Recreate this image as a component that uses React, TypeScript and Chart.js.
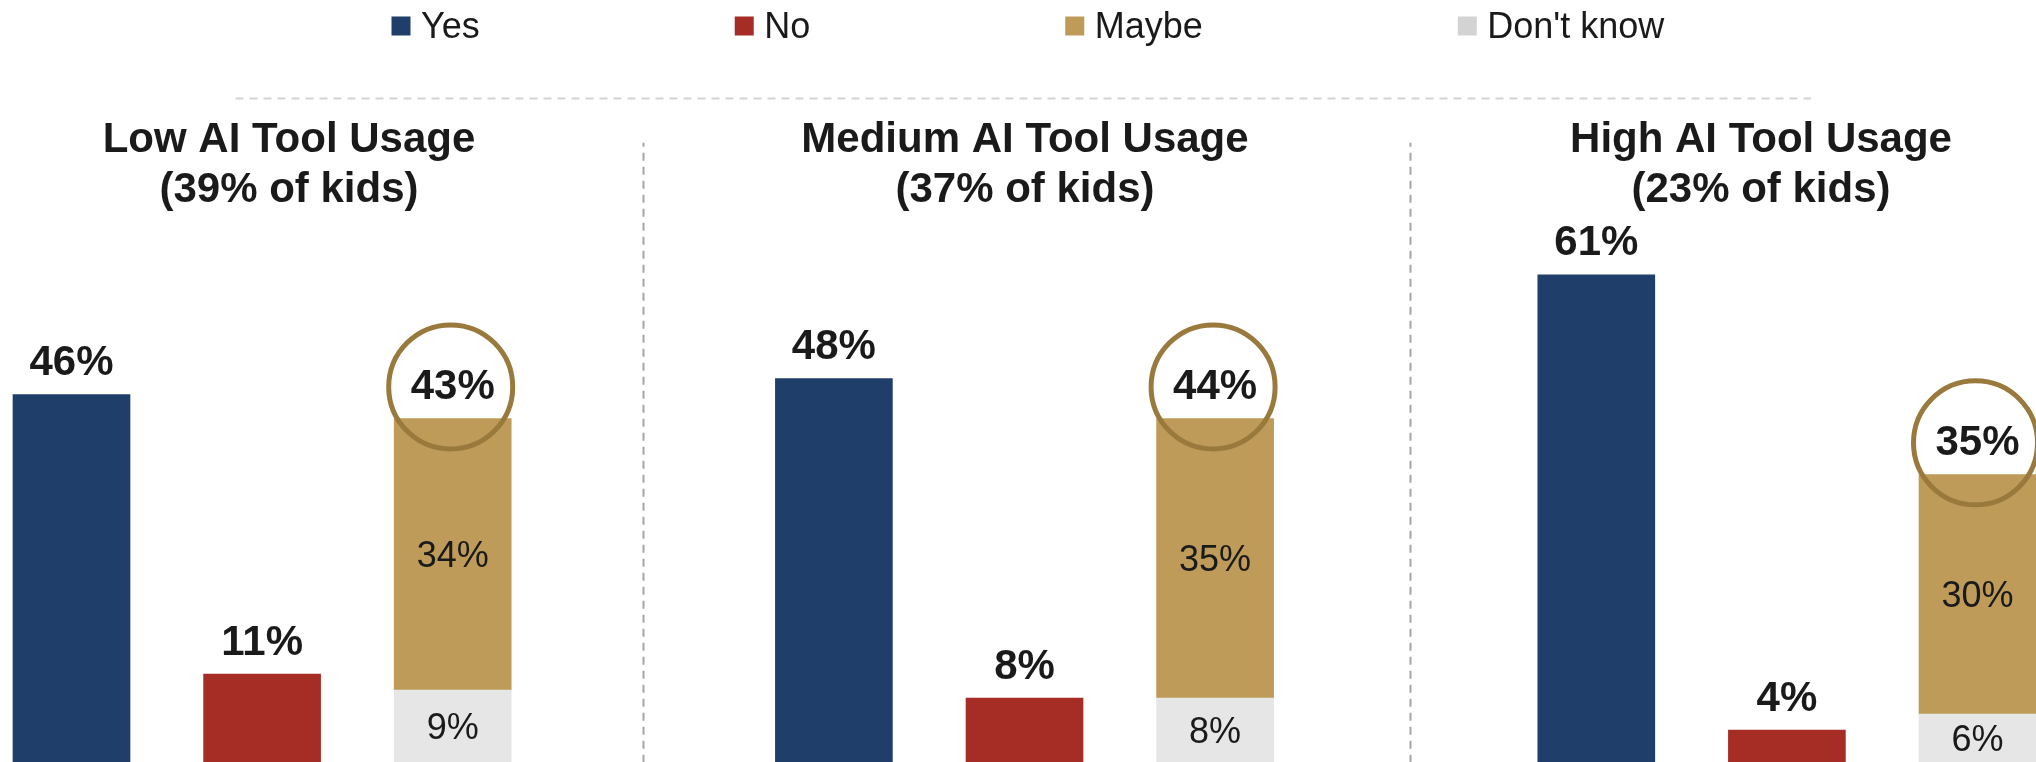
import React, { useEffect, useRef } from "react";
import { Chart, registerables } from "chart.js";

Chart.register(...registerables);

// ---- data ----
const seriesNames = ["Yes", "No", "Maybe", "Don't know"];
const groupTitles = ["Low AI Tool Usage", "Medium AI Tool Usage", "High AI Tool Usage"];
const groupShares = ["(39% of kids)", "(37% of kids)", "(23% of kids)"];
const yesValues = [46, 48, 61];
const noValues = [11, 8, 4];
const maybeValues = [34, 35, 30];
const dontKnowValues = [9, 8, 6];
const maybeTotals = [43, 44, 35];

// ---- styles ----
const COLORS = {
  yes: "#1f3e69",
  no: "#a52d25",
  maybe: "#bf9b5a",
  dontKnow: "#e6e6e6",
  dontKnowLegend: "#d3d3d3",
  ring: "#9a7a3c",
  text: "#1a1a1a",
};
const legendColors = [COLORS.yes, COLORS.no, COLORS.maybe, COLORS.dontKnowLegend];
const FONT = '"Liberation Sans", Arial, Helvetica, sans-serif';
const W = 2036;
const H = 762;
const SLOT_PX = 190.6;
const FIRST_SLOT_PX = 71.5;
const X_MIN = -FIRST_SLOT_PX / SLOT_PX;
const X_MAX = X_MIN + W / SLOT_PX;

// slot index on the x scale for each group (3 bars + 1 gap per group)
const slot = (g: number, k: number) => g * 4 + k;

const overlayPlugin = {
  id: "overlay",
  afterDatasetsDraw(chart: any) {
    const ctx: CanvasRenderingContext2D = chart.ctx;
    const xScale = chart.scales.x;
    ctx.save();

    // legend
    ctx.font = `36px ${FONT}`;
    ctx.textBaseline = "alphabetic";
    ctx.textAlign = "left";
    let lx = 391.5;
    seriesNames.forEach((name, i) => {
      ctx.fillStyle = legendColors[i];
      ctx.fillRect(lx, 16.5, 19, 19);
      ctx.fillStyle = COLORS.text;
      ctx.fillText(name, lx + 29.5, 38);
      lx += 29.5 + ctx.measureText(name).width + 255;
    });

    // horizontal dashed separator
    ctx.strokeStyle = "#d3d3d3";
    ctx.lineWidth = 2;
    ctx.setLineDash([8, 6]);
    ctx.beginPath();
    ctx.moveTo(235.5, 98.5);
    ctx.lineTo(1811, 98.5);
    ctx.stroke();

    // vertical dashed dividers between groups
    ctx.strokeStyle = "#a6a6a6";
    ctx.lineDashOffset = 4;
    [3, 7.02].forEach((v) => {
      const x = Math.round(xScale.getPixelForValue(v)) + 0.5;
      ctx.beginPath();
      ctx.moveTo(x, 142.7);
      ctx.lineTo(x, H);
      ctx.stroke();
    });
    ctx.setLineDash([]);
    ctx.lineDashOffset = 0;

    // group titles
    ctx.fillStyle = COLORS.text;
    ctx.textAlign = "center";
    ctx.font = `bold 42px ${FONT}`;
    groupTitles.forEach((t, g) => {
      const cx = 1025 + (g - 1) * 736;
      ctx.fillText(t, cx, 151.7);
      ctx.fillText(groupShares[g], cx, 201.5);
    });

    // value labels
    const metas = chart.data.datasets.map((_: any, i: number) => chart.getDatasetMeta(i));
    const [yesMeta, noMeta, dkMeta, maybeMeta] = metas;
    ctx.font = `bold 42px ${FONT}`;
    [[yesMeta, yesValues], [noMeta, noValues]].forEach(([meta, vals]: any) => {
      meta.data.forEach((bar: any, i: number) => {
        ctx.fillText(`${vals[i]}%`, bar.x, bar.y - 19.5);
      });
    });
    // inner segment labels
    ctx.font = `36px ${FONT}`;
    [[maybeMeta, maybeValues], [dkMeta, dontKnowValues]].forEach(([meta, vals]: any) => {
      meta.data.forEach((bar: any, i: number) => {
        const mid = (bar.y + bar.base) / 2;
        ctx.fillText(`${vals[i]}%`, bar.x, mid + 12.9);
      });
    });
    // totals with ring
    maybeMeta.data.forEach((bar: any, i: number) => {
      ctx.fillStyle = COLORS.text;
      ctx.font = `bold 42px ${FONT}`;
      ctx.fillText(`${maybeTotals[i]}%`, bar.x, bar.y - 19.5);
      ctx.strokeStyle = COLORS.ring;
      ctx.lineWidth = 5;
      ctx.beginPath();
      ctx.arc(bar.x - 2, bar.y - 31.7, 62, 0, Math.PI * 2);
      ctx.stroke();
    });

    ctx.restore();
  },
};

export default function App() {
  const ref = useRef<HTMLCanvasElement>(null);

  useEffect(() => {
    document.body.style.margin = "0";
    document.body.style.overflow = "hidden";
    const canvas = ref.current!;
    const chart = new Chart(canvas, {
      type: "bar",
      data: {
        datasets: [
          {
            label: seriesNames[0],
            data: yesValues.map((v, g) => ({ x: slot(g, 0), y: v })),
            backgroundColor: COLORS.yes,
          },
          {
            label: seriesNames[1],
            data: noValues.map((v, g) => ({ x: slot(g, 1), y: v })),
            backgroundColor: COLORS.no,
          },
          {
            label: seriesNames[3],
            data: dontKnowValues.map((v, g) => ({ x: slot(g, 2), y: v })),
            backgroundColor: COLORS.dontKnow,
          },
          {
            label: seriesNames[2],
            data: maybeValues.map((v, g) => ({ x: slot(g, 2), y: v })),
            backgroundColor: COLORS.maybe,
          },
        ],
      },
      options: {
        responsive: false,
        devicePixelRatio: 1,
        animation: false,
        layout: { padding: { top: 203, left: 0, right: 0, bottom: 0 } },
        datasets: { bar: { barThickness: 117, borderWidth: 0 } },
        plugins: {
          legend: { display: false },
          title: { display: false },
          tooltip: { enabled: false },
        },
        scales: {
          x: {
            type: "linear",
            min: X_MIN,
            max: X_MAX,
            offset: false,
            stacked: true,
            display: false,
          },
          y: { min: 0, max: 70, stacked: true, display: false },
        },
      } as any,
      plugins: [overlayPlugin],
    });
    return () => chart.destroy();
  }, []);

  return (
    <div style={{ width: W, height: H, overflow: "hidden", position: "relative", background: "#fff" }}>
      <canvas
        ref={ref}
        width={W}
        height={H}
        style={{ display: "block", width: `${W}px`, height: `${H}px` }}
      />
    </div>
  );
}
